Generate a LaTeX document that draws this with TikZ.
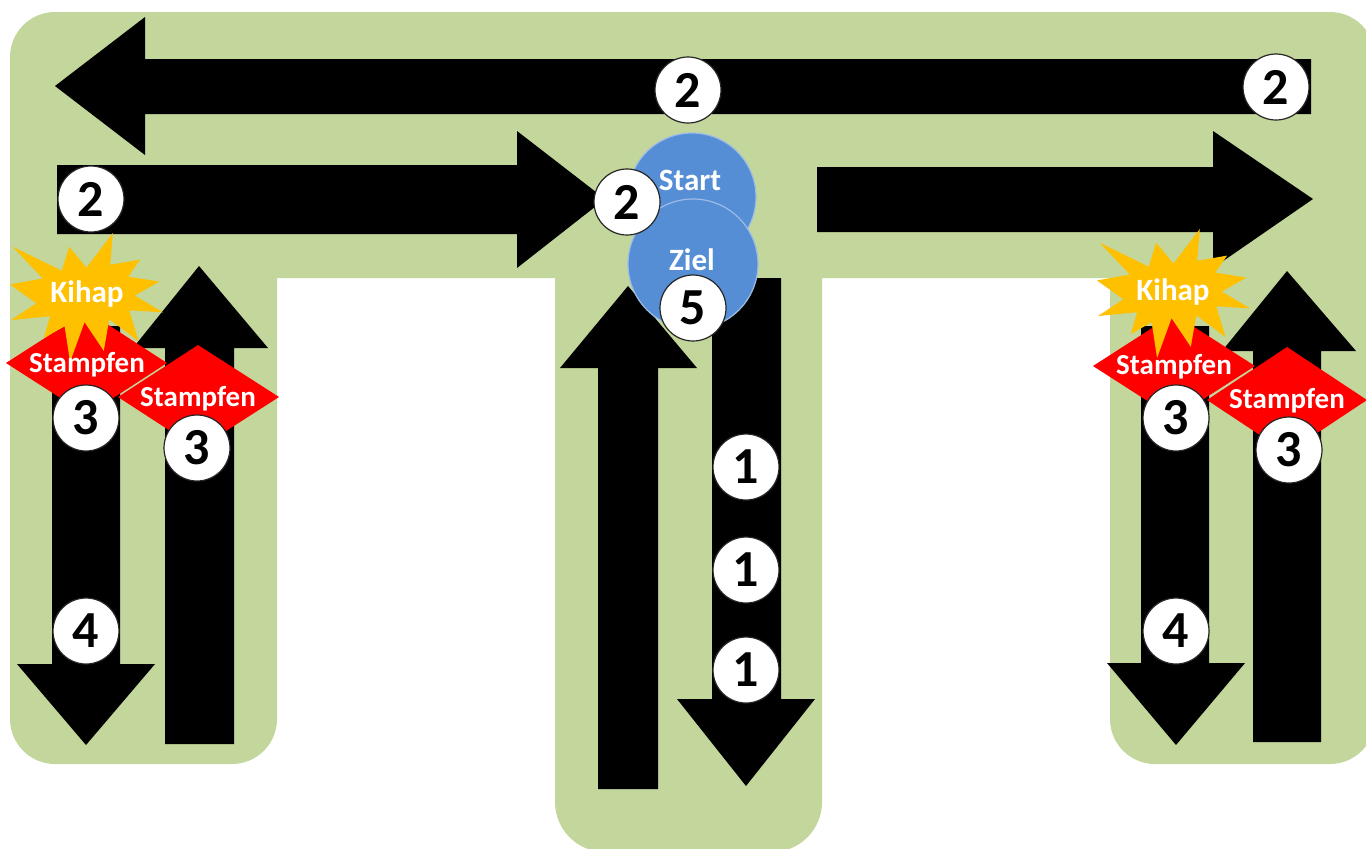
\documentclass[tikz,border=0pt]{standalone}
\usepackage{fontspec}
\setmainfont{Carlito}
\definecolor{grn}{HTML}{C3D69B}
\definecolor{blu}{HTML}{558ED5}
\definecolor{blubd}{HTML}{9DBCE6}
\definecolor{ylw}{HTML}{FFC000}
\definecolor{rd}{HTML}{FF0000}
\tikzset{
  ground/.style={fill=grn},
  blockarrow/.style={fill=black},
  numc/.style={circle, draw=black!85, line width=0.6pt, fill=white, minimum size=33pt, inner sep=0pt,
    font=\fontsize{26}{26}\selectfont\bfseries},
  bigc/.style={circle, draw=blubd, line width=0.6pt, fill=blu, inner sep=0pt},
  wtext/.style={text=white, inner sep=0pt, font=\fontsize{15.5}{16}\selectfont\bfseries},
  stext/.style={text=white, inner sep=0pt, font=\fontsize{14.5}{15}\selectfont\bfseries},
  diamondfill/.style={fill=rd},
  kihap/.pic={\fill[ylw] (108,58) -- (145.22,0) -- (141.55,53.25) -- (183.80,44.57) -- (167.02,73.15)
      -- (210.97,81.37) -- (176.07,104.75) -- (216,132.90) -- (168.37,129.42) -- (181.45,180.95)
      -- (140.20,144.57) -- (132.47,197.37) -- (105.32,149.35) -- (84.85,216) -- (77.15,156.27)
      -- (47.62,176.17) -- (56.67,139.37) -- (1.35,145.87) -- (37.22,117.75) -- (0,86.15)
      -- (46.27,76.17) -- (3.70,22.95) -- (73.12,63.20) -- (83.52,22.95) -- cycle;}
}
\begin{document}
\begin{tikzpicture}[x=0.5pt, y=-0.5pt]
\useasboundingbox (0,0) rectangle (1366,848);
% green ground
\fill[ground, rounded corners=22.5pt] (10,12) rectangle (1375,278);
\fill[ground, rounded corners=22.5pt] (10,150) rectangle (277,764);
\fill[ground, rounded corners=25pt] (555,150) rectangle (822,852);
\fill[ground, rounded corners=22.5pt] (1110,150) rectangle (1375,764);
% black block arrows
\fill[blockarrow] (1311,59) -- (145,59) -- (145,17) -- (55,86) -- (145,155) -- (145,114) -- (1311,114) -- cycle;
\fill[blockarrow] (57,165) -- (517,165) -- (517,131) -- (605,199) -- (517,268) -- (517,234) -- (57,234) -- cycle;
\fill[blockarrow] (817,167) -- (1213,167) -- (1213,131) -- (1313,199) -- (1213,268) -- (1213,232) -- (817,232) -- cycle;
\fill[blockarrow] (52,326) -- (120,326) -- (120,664) -- (155,664) -- (86,745) -- (17,664) -- (52,664) -- cycle;
\fill[blockarrow] (165,744) -- (165,348) -- (133,348) -- (199,266) -- (268,348) -- (234,348) -- (234,744) -- cycle;
\fill[blockarrow] (598,789) -- (598,368) -- (560,368) -- (628,286) -- (697,368) -- (658,368) -- (658,789) -- cycle;
\fill[blockarrow] (712,278) -- (781,278) -- (781,699) -- (815,699) -- (746,786) -- (677,699) -- (712,699) -- cycle;
\fill[blockarrow] (1141,326) -- (1209,326) -- (1209,663) -- (1245,663) -- (1176,745) -- (1107,663) -- (1141,663) -- cycle;
\fill[blockarrow] (1253,742) -- (1253,351) -- (1222,351) -- (1287,271) -- (1356,351) -- (1321,351) -- (1321,742) -- cycle;
% start / ziel
\node[bigc, minimum size=64pt] (start) at (692,197) {};
\node[bigc, minimum size=65pt] (ziel) at (693,264) {};
% stampfen diamonds
\fill[diamondfill] (6,363) -- (87,311) -- (167,363) -- (87,415) -- cycle
                   (118,397) -- (198,345) -- (279,397) -- (198,449) -- cycle;
\fill[diamondfill] (1093,366) -- (1174,314) -- (1255,366) -- (1174,418) -- cycle
                   (1207,400) -- (1287,347) -- (1367,400) -- (1287,453) -- cycle;
% kihap stars
\pic[xscale=0.708, yscale=0.597] at (10,233) {kihap};
\pic[xscale=0.708, yscale=0.597] at (1097,229) {kihap};
% number circles
\node[numc] (n2a) at (688,90) {2};
\node[numc] (n2b) at (1276,87) {2};
\node[numc] (n2c) at (91,199) {2};
\node[numc] (n2d) at (627,202) {2};
\node[numc] (n5) at (693,308) {5};
\node[numc] (n3a) at (86,418) {3};
\node[numc] (n3b) at (197,448) {3};
\node[numc] (n3c) at (1176,418) {3};
\node[numc] (n3d) at (1289,450) {3};
\node[numc] (n4a) at (86,631) {4};
\node[numc] (n4b) at (1176,631) {4};
\node[numc] (n1a) at (746,467) {1};
\node[numc] (n1b) at (746,570) {1};
\node[numc] (n1c) at (746,670) {1};
% texts
\node[wtext] (tstart) at (690,180) {Start};
\node[wtext] (tziel) at (692,260) {Ziel};
\node[wtext] (tkihapL) at (87,294) {Kihap};
\node[wtext] (tkihapR) at (1173,292) {Kihap};
\node[stext] (st1) at (87,365) {Stampfen};
\node[stext] (st2) at (198,399) {Stampfen};
\node[stext] (st3) at (1174,367) {Stampfen};
\node[stext] (st4) at (1287,401) {Stampfen};
\end{tikzpicture}
\end{document}
